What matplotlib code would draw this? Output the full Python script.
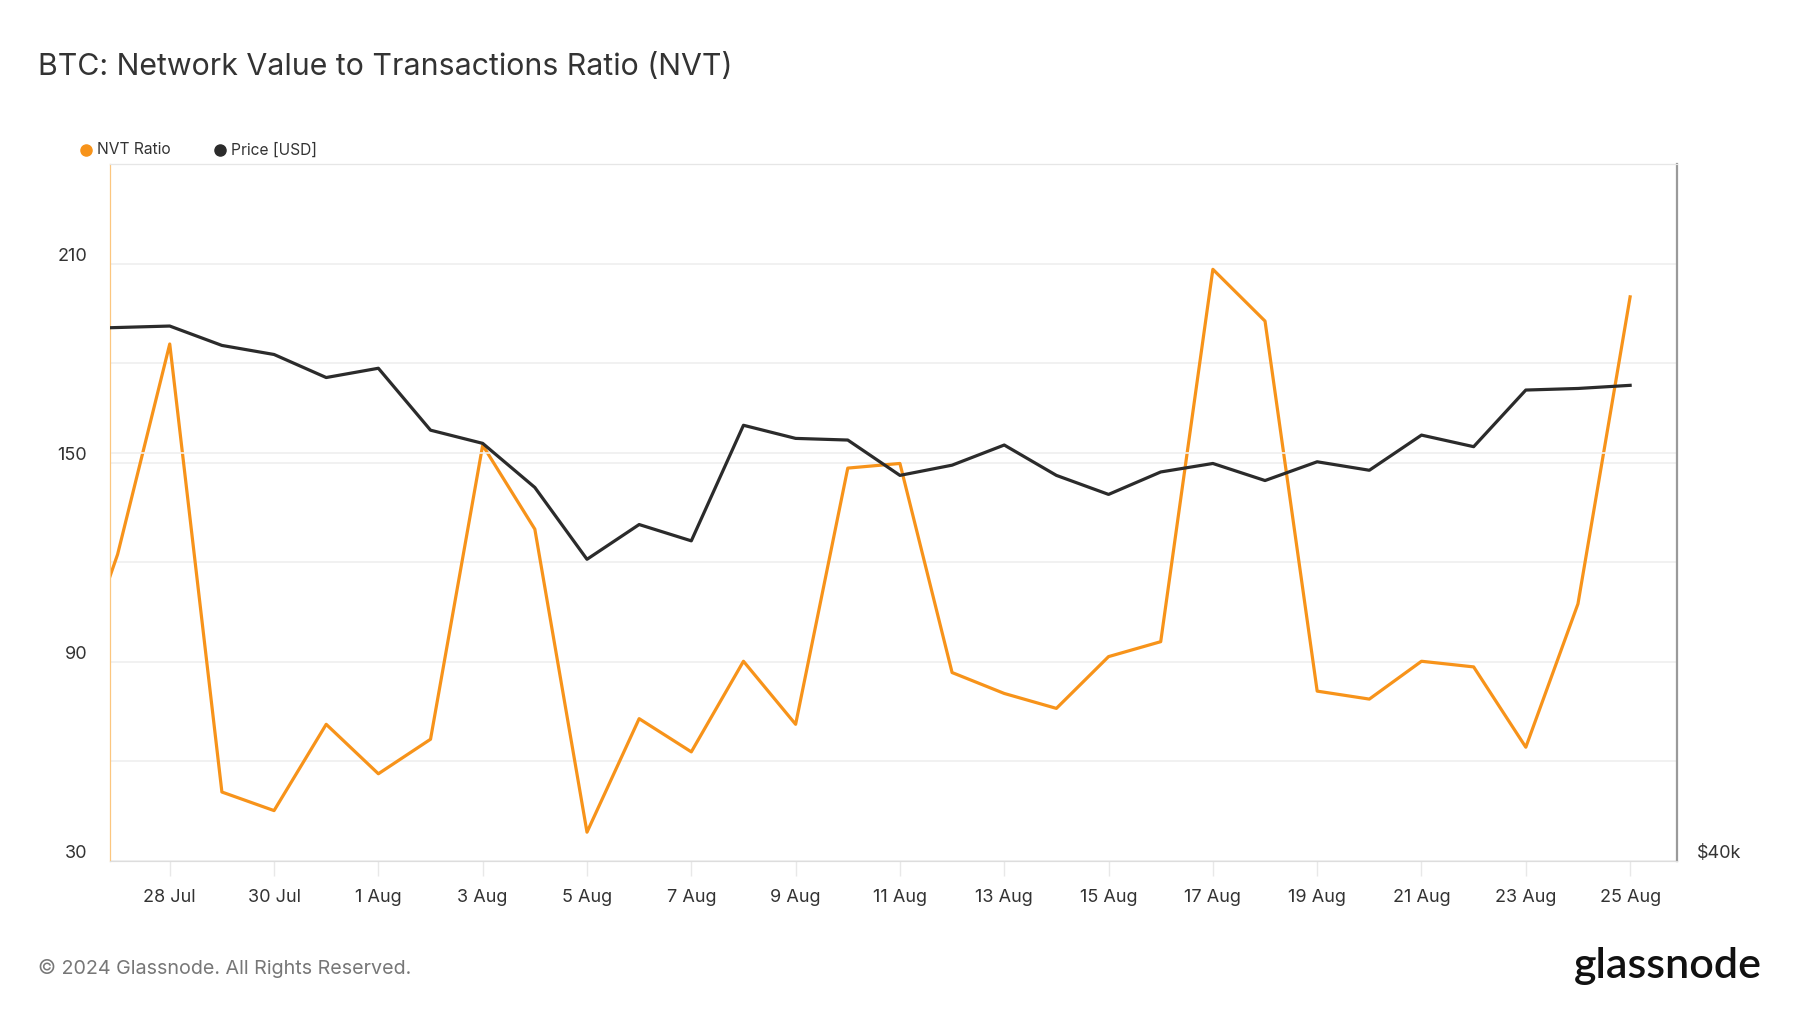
import matplotlib.pyplot as plt
import matplotlib.dates as mdates
from matplotlib.lines import Line2D
import numpy as np
import pandas as pd

plt.rcParams['font.family'] = ['Inter', 'DejaVu Sans']

# daily values, 26 Jul - 25 Aug 2024
dates = pd.date_range('2024-07-26', '2024-08-25', freq='D')
nvt = [77.0, 122.4, 185.8, 50.8, 45.2, 71.2, 56.3, 66.7, 155.3, 130.0,
       38.7, 72.9, 62.9, 90.2, 71.2, 148.4, 149.8, 86.8, 80.5, 76.0,
       91.6, 96.1, 208.3, 192.7, 81.2, 78.8, 90.2, 88.5, 64.3, 107.5, 200.0]
price = [67900, 68000, 68100, 66800, 66200, 64700, 65300, 61400, 60600, 58000,
         54000, 55900, 55000, 61700, 60900, 60800, 58700, 59300, 60500, 58700,
         57600, 58900, 59400, 58400, 59500, 59000, 61100, 60400, 63900, 64000, 64200]

nvt_ticks = [30, 90, 150, 210]
title = 'BTC: Network Value to Transactions Ratio (NVT)'

orange = '#f7931a'
dark = '#2b2b2b'

fig = plt.figure(figsize=(18, 10.13), dpi=100)
ax = fig.add_axes([0.0611, 0.150, 0.8706, 0.688])
ax2 = ax.twinx()

ax.plot(dates, nvt, color=orange, lw=2.3, zorder=3)
ax2.plot(dates, price, color=dark, lw=2.3, zorder=3)

x0 = pd.Timestamp('2024-07-26') + pd.Timedelta(hours=20.5)
x1 = pd.Timestamp('2024-08-25') + pd.Timedelta(hours=21.6)
ax.set_xlim(x0, x1)
ax.set_ylim(30, 240)
ax2.set_yscale('log')
ax2.set_ylim(40000, 80000)

# grid
ax.set_yticks(np.arange(30, 241, 30))
ax.grid(axis='y', color='#efefef', lw=1.2)
ax.tick_params(axis='y', length=0, labelleft=False)
ax2.set_yticks([60000])
ax2.set_yticks([], minor=True)
ax2.grid(axis='y', color='#efefef', lw=1.2)
ax2.set_axisbelow(True)
ax2.tick_params(axis='y', which='both', length=0, labelright=False)

for v in nvt_ticks:
    ax.annotate(str(v), xy=(0, v), xycoords=('axes fraction', 'data'),
                xytext=(-16.5, 5.5), textcoords='offset points',
                ha='right', va='center', fontsize=13, color='#333333')
ax2.annotate('$40k', xy=(1, 40000), xycoords=('axes fraction', 'data'),
             xytext=(14, 5.5), textcoords='offset points',
             ha='left', va='center', fontsize=13, color='#333333')

# x axis
ax.set_xticks(pd.date_range('2024-07-28', '2024-08-25', freq='2D'))
ax.xaxis.set_major_formatter(plt.FuncFormatter(
    lambda v, p: f"{mdates.num2date(v).day} {mdates.num2date(v):%b}"))
ax.tick_params(axis='x', length=11, width=1, color='#e8e8e8', pad=9,
               labelsize=13, labelcolor='#333333')

for a in (ax, ax2):
    a.spines['top'].set_color('#e6e6e6')
    a.spines['bottom'].set_color('#dddddd')
    a.spines['left'].set_color('#fcc67f')
    a.spines['right'].set_color('#9a9a9a')
ax2.spines['right'].set_linewidth(1.6)
ax.spines['right'].set_visible(False)

# title and legend
fig.text(0.021, 0.934, title, fontsize=21.8, color='#333333', va='center', ha='left')
legend_items = [('NVT Ratio', orange, 0.0478), ('Price [USD]', dark, 0.1222)]
for label, col, lx in legend_items:
    fig.add_artist(Line2D([lx], [0.852], marker='o', markersize=8, color=col,
                          lw=0, transform=fig.transFigure))
    fig.text(lx + 0.0062, 0.852, label, fontsize=11.2, color='#333333',
             va='center', ha='left')

fig.text(0.021, 0.044, '\u00a9 2024 Glassnode. All Rights Reserved.', fontsize=14.2,
         color='#777777', va='center', ha='left')
fig.text(0.979, 0.046, 'glassnode', fontsize=31, color='#111111', fontweight='semibold',
         family='Lato', va='center', ha='right')

fig.savefig('out.png', dpi=100)
